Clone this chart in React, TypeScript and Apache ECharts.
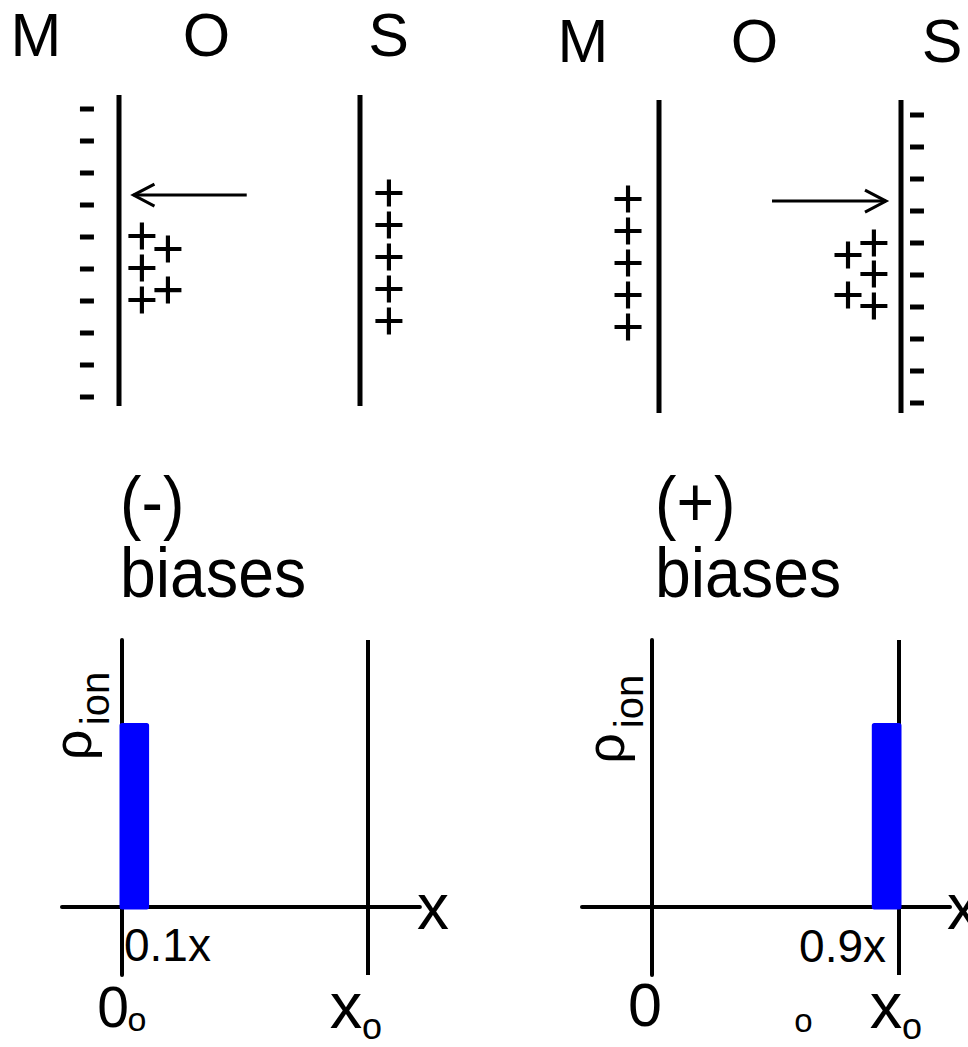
import React, { useEffect, useRef } from 'react';
import * as echarts from 'echarts';

// ---------------- data ----------------
// Top panels: x in units of oxide thickness (0 = metal/oxide interface, 1 = oxide/semiconductor interface),
// y in charge-row index (rows counted downward).

// (-) bias panel
const negWalls = [
  [0, -0.44, 0, 9.28],
  [1, -0.44, 1, 9.28],
];
const negMetalCharges = [
  [-0.133, 0], [-0.133, 1], [-0.133, 2], [-0.133, 3], [-0.133, 4],
  [-0.133, 5], [-0.133, 6], [-0.133, 7], [-0.133, 8], [-0.133, 9],
];
const negOxideIons = [
  [0.095, 3.97], [0.203, 4.375], [0.095, 4.97], [0.203, 5.66], [0.095, 5.97],
];
const negSemiCharges = [
  [1.12, 2.625], [1.12, 3.625], [1.12, 4.625], [1.12, 5.625], [1.12, 6.625],
];
const negField = [[0.53, 2.69, 0.06, 2.69]];

// (+) bias panel
const posWalls = [
  [0, -0.47, 0, 9.31],
  [1, -0.47, 1, 9.31],
];
const posMetalCharges = [
  [-0.128, 2.625], [-0.128, 3.625], [-0.128, 4.625], [-0.128, 5.625], [-0.128, 6.625],
];
const posOxideIons = [
  [0.888, 4.0], [0.781, 4.375], [0.888, 4.97], [0.781, 5.625], [0.888, 5.97],
];
const posSemiCharges = [
  [1.066, 0], [1.066, 1], [1.066, 2], [1.066, 3], [1.066, 4],
  [1.066, 5], [1.066, 6], [1.066, 7], [1.066, 8], [1.066, 9],
];
const posField = [[0.467, 2.69, 0.938, 2.69]];

// Bottom panels: ion charge density bands [xStart, xEnd, rho]
const negIonBand = [[0, 0.1, 1]];
const posIonBand = [[0.9, 1.0, 1]];
const oxideEdges = [1];

// texts
const layerLabels = ['M', 'O', 'S'];
const biasLabels = ['(-)', '(+)'];
const biasWord = 'biases';
const rhoLabel = 'ρ';
const rhoSub = 'ion';
const negBandLabel = '0.1x';
const posBandLabel = '0.9x';
const originLabel = '0';
const edgeLabel = 'x';
const edgeSub = 'o';
const axisName = 'x';

// ---------------- layout helpers ----------------
const FONT = '"Liberation Sans", Arial, Helvetica, sans-serif';
const PLUS =
  'path://M-2,-13L2,-13L2,-2L13,-2L13,2L2,2L2,13L-2,13L-2,2L-13,2L-13,-2L-2,-2Z';

function hBox(px0: number, ppu: number, min: number, max: number) {
  return { left: px0 + min * ppu, width: (max - min) * ppu };
}
function vBoxDown(py0: number, ppu: number, min: number, max: number) {
  return { top: py0 + min * ppu, height: (max - min) * ppu };
}
function vBoxUp(py0: number, ppu: number, min: number, max: number) {
  return { top: py0 - max * ppu, height: (max - min) * ppu };
}

const TOP_X = { min: -0.4, max: 1.6 };
const TOP_Y = { min: -2, max: 11 };
const BL_X = { min: -0.244, max: 1.211 };
const BR_X = { min: -0.2834, max: 1.2065 };
const BOT_Y = { min: -0.3747, max: 1.471 };

const gridCommon = { containLabel: false, outerBoundsMode: 'none' };
const grids = [
  { ...gridCommon, ...hBox(119, 241, TOP_X.min, TOP_X.max), ...vBoxDown(109, 32, TOP_Y.min, TOP_Y.max) },
  { ...gridCommon, ...hBox(659, 242, TOP_X.min, TOP_X.max), ...vBoxDown(115, 32, TOP_Y.min, TOP_Y.max) },
  { ...gridCommon, ...hBox(122, 246, BL_X.min, BL_X.max), ...vBoxUp(907, 181.5, BOT_Y.min, BOT_Y.max) },
  { ...gridCommon, ...hBox(652, 247, BR_X.min, BR_X.max), ...vBoxUp(907, 181.5, BOT_Y.min, BOT_Y.max) },
];

const wallRender = (width: number) => (_p: any, api: any) => {
  const a = api.coord([api.value(0), api.value(1)]);
  const b = api.coord([api.value(2), api.value(3)]);
  return {
    type: 'line',
    shape: { x1: a[0], y1: a[1], x2: b[0], y2: b[1] },
    style: { stroke: '#000', lineWidth: width, fill: 'none' },
  };
};

const arrowRender = (_p: any, api: any) => {
  const a = api.coord([api.value(0), api.value(1)]);
  const b = api.coord([api.value(2), api.value(3)]);
  const d = Math.sign(b[0] - a[0]);
  return {
    type: 'group',
    children: [
      {
        type: 'line',
        shape: { x1: a[0], y1: a[1], x2: b[0], y2: b[1] },
        style: { stroke: '#000', lineWidth: 3 },
      },
      {
        type: 'polyline',
        shape: {
          points: [
            [b[0] - d * 21, b[1] - 11],
            [b[0], b[1]],
            [b[0] - d * 21, b[1] + 11],
          ],
        },
        style: { stroke: '#000', lineWidth: 3, fill: 'none' },
      },
    ],
  };
};

const bandRender = (_p: any, api: any) => {
  const a = api.coord([api.value(0), api.value(2)]);
  const b = api.coord([api.value(1), 0]);
  return {
    type: 'rect',
    shape: { x: a[0], y: a[1], width: b[0] - a[0], height: b[1] - a[1] },
    style: { fill: '#0000ff', stroke: '#0000ff', lineWidth: 5, lineJoin: 'round' },
  };
};

function topAxes(i: number) {
  return {
    x: { gridIndex: i, type: 'value', min: TOP_X.min, max: TOP_X.max, show: false },
    y: { gridIndex: i, type: 'value', min: TOP_Y.min, max: TOP_Y.max, inverse: true, show: false },
  };
}

function botAxes(i: number, xr: { min: number; max: number }) {
  const line = { show: true, onZero: true, lineStyle: { color: '#000', width: 4 } };
  return {
    x: {
      gridIndex: i, type: 'value', min: xr.min, max: xr.max,
      axisLine: line, axisTick: { show: false }, axisLabel: { show: false }, splitLine: { show: false },
      name: axisName, nameLocation: 'end', nameGap: -3,
      nameTextStyle: {
        fontSize: 64, color: '#000', fontFamily: FONT, padding: [0, 0, 20, 0],
        align: 'left', verticalAlign: 'middle',
      },
    },
    y: {
      gridIndex: i, type: 'value', min: BOT_Y.min, max: BOT_Y.max,
      axisLine: line, axisTick: { show: false }, axisLabel: { show: false }, splitLine: { show: false },
    },
  };
}

function txt(text: string, x: number, y: number, fontSize: number, o: any = {}) {
  const align = o.align || 'center';
  return {
    type: 'text', x, y, rotation: o.rotation || 0, scaleX: o.scaleX || 1, silent: true,
    style: {
      text, fontSize, fontFamily: FONT, fill: '#000', lineHeight: o.lineHeight || fontSize,
      align, verticalAlign: 'middle', textAlign: align, textVerticalAlign: 'middle',
    },
  };
}

const axes = [topAxes(0), topAxes(1), botAxes(2, BL_X), botAxes(3, BR_X)];

const scatter = (idx: number, data: number[][], plus: boolean) => ({
  type: 'scatter', xAxisIndex: idx, yAxisIndex: idx, data, silent: true,
  symbol: plus ? PLUS : 'rect', symbolSize: plus ? 27 : [14, 5],
  itemStyle: { color: '#000', opacity: 1 },
});

const custom = (idx: number, data: number[][], renderItem: any, z = 2) => ({
  type: 'custom', xAxisIndex: idx, yAxisIndex: idx, data, renderItem, silent: true, z,
});

const edgeLine = (idx: number) => ({
  type: 'line', xAxisIndex: idx, yAxisIndex: idx, data: [], silent: true,
  markLine: {
    silent: true, symbol: ['none', 'none'], label: { show: false }, animation: false,
    lineStyle: { color: '#000', width: 4, type: 'solid', opacity: 1 },
    emphasis: { disabled: true },
    data: oxideEdges.map((v) => ({ xAxis: v })),
  },
});

const option: any = {
  animation: false,
  backgroundColor: '#fff',
  grid: grids,
  xAxis: axes.map((a) => a.x),
  yAxis: axes.map((a) => a.y),
  series: [
    custom(0, negWalls, wallRender(5)),
    scatter(0, negMetalCharges, false),
    scatter(0, negOxideIons, true),
    scatter(0, negSemiCharges, true),
    custom(0, negField, arrowRender),
    custom(1, posWalls, wallRender(5)),
    scatter(1, posMetalCharges, true),
    scatter(1, posOxideIons, true),
    scatter(1, posSemiCharges, false),
    custom(1, posField, arrowRender),
    edgeLine(2),
    custom(2, negIonBand, bandRender, 5),
    edgeLine(3),
    custom(3, posIonBand, bandRender, 5),
  ],
  graphic: [
    txt(layerLabels[0], 36, 35.3, 61, { lineHeight: 54 }),
    txt(layerLabels[1], 206.5, 35.3, 61, { lineHeight: 54 }),
    txt(layerLabels[2], 388.5, 35.3, 61, { lineHeight: 54 }),
    txt(layerLabels[0], 583, 41.3, 61, { lineHeight: 54 }),
    txt(layerLabels[1], 754.5, 40.8, 61, { lineHeight: 54 }),
    txt(layerLabels[2], 942, 40.8, 61, { lineHeight: 54 }),
    txt(biasLabels[0], 120, 502, 70, { align: 'left', scaleX: 0.92 }),
    txt(biasWord, 120, 573, 70, { align: 'left', scaleX: 0.92 }),
    txt(biasLabels[1], 655, 502, 70, { align: 'left', scaleX: 0.92 }),
    txt(biasWord, 655, 573, 70, { align: 'left', scaleX: 0.92 }),
    txt(rhoLabel, 72, 745, 54, { rotation: Math.PI / 2 }),
    txt(rhoSub, 95, 698.5, 40, { rotation: Math.PI / 2 }),
    txt(rhoLabel, 604.5, 748.5, 54, { rotation: Math.PI / 2 }),
    txt(rhoSub, 629, 701.5, 40, { rotation: Math.PI / 2 }),
    txt(negBandLabel, 124, 945, 46, { align: 'left' }),
    txt(originLabel, 113, 1007, 57),
    txt(edgeSub, 137, 1019, 34),
    txt(edgeLabel, 346, 1005, 65),
    txt(edgeSub, 372, 1026, 36, { lineHeight: 32 }),
    txt(posBandLabel, 886, 946, 46, { align: 'right' }),
    txt(originLabel, 645, 1005, 61),
    txt(edgeSub, 803.5, 1020.5, 33),
    txt(edgeLabel, 886, 1005.5, 65),
    txt(edgeSub, 912, 1026, 36, { lineHeight: 32 }),
  ],
};

export default function App() {
  const ref = useRef<HTMLDivElement>(null);
  useEffect(() => {
    const chart = echarts.init(ref.current as HTMLDivElement, null, { renderer: 'svg' });
    chart.setOption(option);
    return () => chart.dispose();
  }, []);
  return (
    <div
      ref={ref}
      style={{ position: 'absolute', left: 0, top: 0, width: 968, height: 1047, background: '#fff' }}
    />
  );
}
